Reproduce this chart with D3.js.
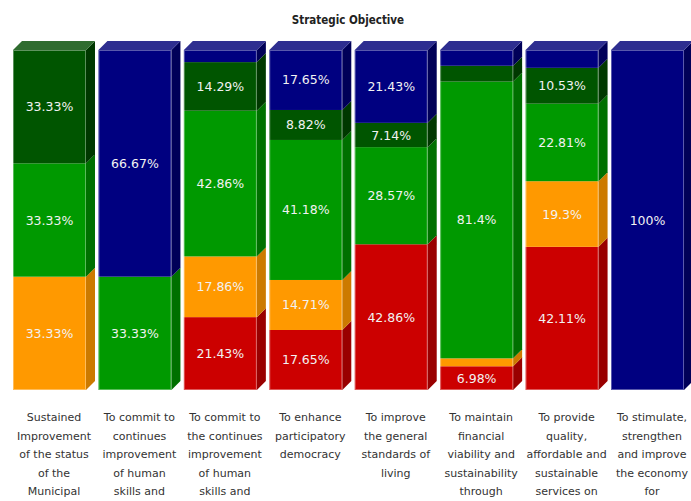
<!DOCTYPE html>
<html>
<head>
<meta charset="utf-8">
<script src="https://cdn.jsdelivr.net/npm/d3@7"></script>
<style>
  html, body { margin: 0; padding: 0; background: #ffffff; }
  svg { display: block; }
</style>
</head>
<body>
<svg id="chart" width="691" height="501"></svg>
<script>
// ---- data ----
const title = "Strategic Objective";
const categories = [
  ["Sustained", "Improvement", "of the status", "of the", "Municipal"],
  ["To commit to", "continues", "improvement", "of human", "skills and"],
  ["To commit to", "the continues", "improvement", "of human", "skills and"],
  ["To enhance", "participatory", "democracy"],
  ["To improve", "the general", "standards of", "living"],
  ["To maintain", "financial", "viability and", "sustainability", "through"],
  ["To provide", "quality,", "affordable and", "sustainable", "services on"],
  ["To stimulate,", "strengthen", "and improve", "the economy", "for"]
];
const seriesNames = ["red", "orange", "green", "darkGreen", "navy"];
const redValues       = [0,     0,     21.43, 17.65, 42.86, 6.98, 42.11, 0];
const orangeValues    = [33.33, 0,     17.86, 14.71, 0,     2.33, 19.3,  0];
const greenValues     = [33.33, 33.33, 42.86, 41.18, 28.57, 81.4, 22.81, 0];
const darkGreenValues = [33.33, 0,     14.29, 8.82,  7.14,  4.65, 10.53, 0];
const navyValues      = [0,     66.67, 3.57,  17.65, 21.43, 4.65, 5.26,  100];

const frontColors = { red: "#cc0000", orange: "#ff9900", green: "#009900", darkGreen: "#005500", navy: "#000080" };
const sideColors  = { red: "#990000", orange: "#cc7a00", green: "#007000", darkGreen: "#003800", navy: "#000058" };
const topColors   = { red: "#d94040", orange: "#ffb040", green: "#33aa33", darkGreen: "#2f6c2f", navy: "#2e2e90" };

// ---- build table ----
const table = categories.map((c, i) => ({
  idx: i,
  red: redValues[i], orange: orangeValues[i], green: greenValues[i],
  darkGreen: darkGreenValues[i], navy: navyValues[i]
}));

const svg = d3.select("#chart");
const step = 85.43;
const x = d3.scaleBand().domain(d3.range(categories.length))
  .range([13, 13 + step * categories.length]).paddingInner(0).paddingOuter(0);
const frontW = 73;
const depth = 9;
const y = d3.scaleLinear().domain([0, 100]).range([390, 50]);

const stacked = d3.stack().keys(seriesNames)(table);

// title
svg.append("text")
  .attr("x", 348).attr("y", 24)
  .attr("text-anchor", "middle")
  .attr("font-family", "'DejaVu Sans Condensed', 'DejaVu Sans', sans-serif")
  .attr("font-weight", "bold")
  .attr("font-size", "11.5px")
  .attr("fill", "#222")
  .text(title);

const bars = svg.append("g");

table.forEach((row, i) => {
  const x0 = x(i);
  const g = bars.append("g");
  let topKey = null, topY = null;
  stacked.forEach(layer => {
    const key = layer.key;
    const d = layer[i];
    if (d[1] - d[0] <= 0) return;
    const yTop = y(d[1]), yBot = y(d[0]);
    // front
    g.append("rect")
      .attr("x", x0).attr("y", yTop)
      .attr("width", frontW).attr("height", yBot - yTop)
      .attr("fill", frontColors[key]);
    // side
    g.append("path")
      .attr("d", `M${x0 + frontW},${yTop} L${x0 + frontW + depth},${yTop - depth} L${x0 + frontW + depth},${yBot - depth} L${x0 + frontW},${yBot} Z`)
      .attr("fill", sideColors[key]);
    topKey = key; topY = yTop;
  });
  if (topKey) {
    g.append("path")
      .attr("d", `M${x0},${topY} L${x0 + depth},${topY - depth} L${x0 + frontW + depth},${topY - depth} L${x0 + frontW},${topY} Z`)
      .attr("fill", topColors[topKey]);
  }
  // light outline of the front face
  g.append("rect")
    .attr("x", x0 + 0.5).attr("y", y(100) + 0.5)
    .attr("width", frontW - 1).attr("height", y(0) - y(100) - 1)
    .attr("fill", "none")
    .attr("stroke", "rgba(255,255,255,0.35)")
    .attr("stroke-width", 1);
  // value labels
  stacked.forEach(layer => {
    const d = layer[i];
    const v = d[1] - d[0];
    if (v < 6) return;
    g.append("text")
      .attr("x", x0 + frontW / 2)
      .attr("y", (y(d[0]) + y(d[1])) / 2)
      .attr("dy", "0.36em")
      .attr("text-anchor", "middle")
      .attr("font-family", "'DejaVu Sans', Verdana, sans-serif")
      .attr("font-size", "12.5px")
      .attr("fill", "#f2f2f2")
      .text(table[i][layer.key] + "%");
  });
});

// category labels
const labels = svg.append("g");
categories.forEach((lines, i) => {
  const t = labels.append("text")
    .attr("text-anchor", "middle")
    .attr("font-family", "'DejaVu Sans', Verdana, sans-serif")
    .attr("font-size", "11px")
    .attr("fill", "#333");
  lines.forEach((ln, j) => {
    t.append("tspan")
      .attr("x", x(i) + (frontW + depth) / 2)
      .attr("y", 421 + j * 18.5)
      .text(ln);
  });
});
</script>
</body>
</html>
